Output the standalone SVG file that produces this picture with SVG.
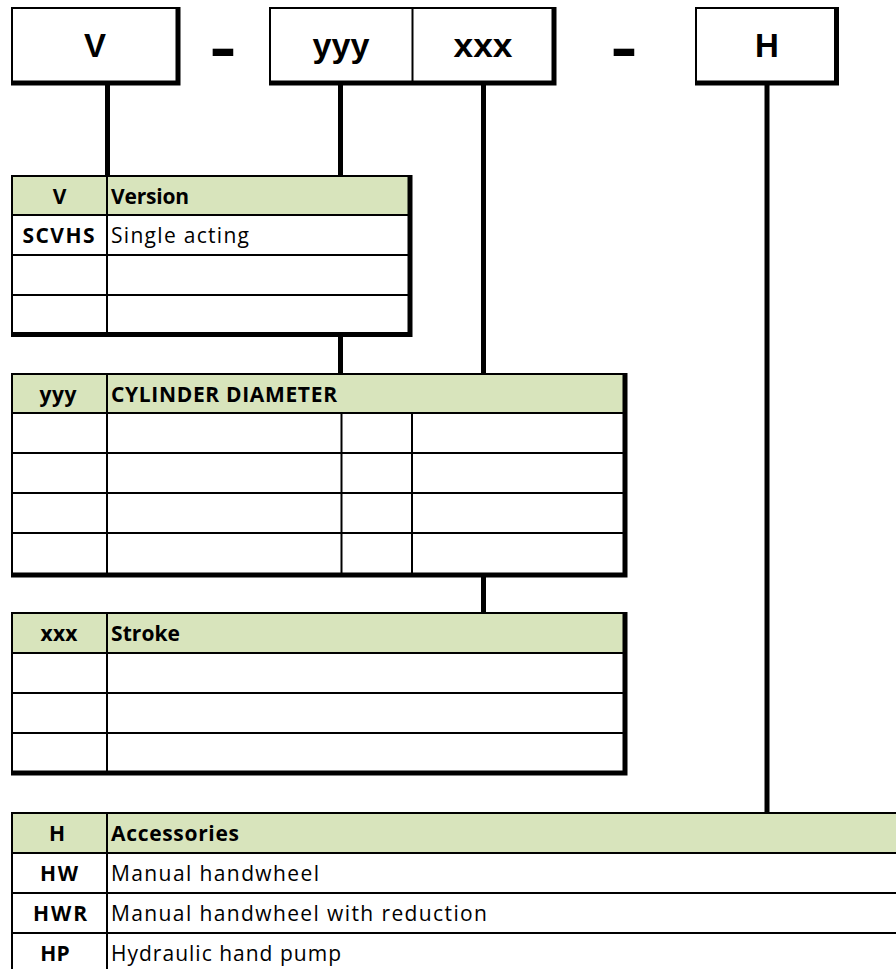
<svg xmlns="http://www.w3.org/2000/svg" width="896" height="969" viewBox="0 0 896 969">
<style>
.thin{stroke:#000;stroke-width:2;fill:none}
.thick{stroke:#000;stroke-width:5;fill:none;stroke-linejoin:miter}
.hdr{fill:#D8E4BC}
.wbg{fill:#fff}
.big{font-family:"Liberation Sans",Arial,sans-serif;font-weight:bold;font-size:33px;text-anchor:middle;fill:#000}
.dash{font-family:"Liberation Sans",Arial,sans-serif;font-weight:bold;font-size:62px;text-anchor:middle;fill:#000}
.b{font-family:"Open Sans","Liberation Sans",sans-serif;font-weight:bold;font-size:21px;fill:#000}
.r{font-family:"Open Sans","Liberation Sans",sans-serif;font-size:21px;fill:#000}
.c{text-anchor:middle}
.conn{stroke:#000;stroke-width:5;fill:none}
</style>
<rect width="896" height="969" fill="#fff"/>
<g id="connectors">
<line class="conn" x1="107.5" y1="83" x2="107.5" y2="176"/>
<line class="conn" x1="340.5" y1="83" x2="340.5" y2="374"/>
<line class="conn" x1="483.5" y1="83" x2="483.5" y2="613"/>
<line class="conn" x1="767" y1="83" x2="767" y2="813"/>
</g>
<g id="box-V">
<rect class="wbg" x="12" y="8" width="166" height="75"/>
<rect class="thin" x="12" y="8" width="166" height="75"/>
<path class="thick" d="M178,7 V83 H11"/>
<text class="big" x="95" y="57">V</text>
</g>
<text id="dash1" class="dash" x="223" y="68" textLength="27" lengthAdjust="spacingAndGlyphs">-</text>
<g id="box-yyy-xxx">
<rect class="wbg" x="270" y="8" width="284" height="75"/>
<rect class="thin" x="270" y="8" width="284" height="75"/>
<line class="thin" x1="412.5" y1="8" x2="412.5" y2="83"/>
<path class="thick" d="M554,7 V83 H269"/>
<text class="big" x="341" y="57" textLength="57" lengthAdjust="spacingAndGlyphs">yyy</text>
<text class="big" x="483" y="57" textLength="59" lengthAdjust="spacingAndGlyphs">xxx</text>
</g>
<text id="dash2" class="dash" x="624" y="68" textLength="27" lengthAdjust="spacingAndGlyphs">-</text>
<g id="box-H">
<rect class="wbg" x="696" y="8" width="140.5" height="75"/>
<rect class="thin" x="696" y="8" width="140.5" height="75"/>
<path class="thick" d="M836.5,7 V83 H695"/>
<text class="big" x="767" y="57">H</text>
</g>
<g id="table-V">
<rect class="wbg" x="12" y="176" width="398" height="158.5"/>
<rect class="hdr" x="12" y="176" width="398" height="39"/>
<rect class="thin" x="12" y="176" width="398" height="158.5"/>
<line class="thin" x1="12" y1="215" x2="410" y2="215"/>
<line class="thin" x1="12" y1="255" x2="410" y2="255"/>
<line class="thin" x1="12" y1="295" x2="410" y2="295"/>
<line class="thin" x1="107" y1="176" x2="107" y2="334.5"/>
<path class="thick" d="M410,175 V334.5 H11"/>
<text class="b c" x="59.5" y="203.5">V</text>
<text class="b" x="111" y="203.5" textLength="78">Version</text>
<text class="b c" x="58.5" y="242.5" textLength="72">SCVHS</text>
<text class="r" x="111" y="242.5" textLength="138">Single acting</text>
</g>
<g id="table-yyy">
<rect class="wbg" x="12" y="374" width="613" height="201"/>
<rect class="hdr" x="12" y="374" width="613" height="39"/>
<rect class="thin" x="12" y="374" width="613" height="201"/>
<line class="thin" x1="12" y1="413" x2="625" y2="413"/>
<line class="thin" x1="12" y1="453" x2="625" y2="453"/>
<line class="thin" x1="12" y1="493" x2="625" y2="493"/>
<line class="thin" x1="12" y1="533" x2="625" y2="533"/>
<line class="thin" x1="107" y1="374" x2="107" y2="575"/>
<line class="thin" x1="341.5" y1="413" x2="341.5" y2="575"/>
<line class="thin" x1="412" y1="413" x2="412" y2="575"/>
<path class="thick" d="M625,373 V575 H11"/>
<text class="b c" x="58" y="401.5" textLength="37">yyy</text>
<text class="b" x="111" y="401.5" textLength="226">CYLINDER DIAMETER</text>
</g>
<g id="table-xxx">
<rect class="wbg" x="12" y="613" width="613" height="160"/>
<rect class="hdr" x="12" y="613" width="613" height="40"/>
<rect class="thin" x="12" y="613" width="613" height="160"/>
<line class="thin" x1="12" y1="653" x2="625" y2="653"/>
<line class="thin" x1="12" y1="693" x2="625" y2="693"/>
<line class="thin" x1="12" y1="733" x2="625" y2="733"/>
<line class="thin" x1="107" y1="613" x2="107" y2="773"/>
<path class="thick" d="M625,612 V773 H11"/>
<text class="b c" x="59" y="640.5" textLength="37">xxx</text>
<text class="b" x="111" y="640.5" textLength="69">Stroke</text>
</g>
<g id="table-H">
<rect class="wbg" x="12" y="813" width="900" height="170"/>
<rect class="hdr" x="12" y="813" width="900" height="40"/>
<rect class="thin" x="12" y="813" width="900" height="170"/>
<line class="thin" x1="12" y1="853" x2="900" y2="853"/>
<line class="thin" x1="12" y1="893" x2="900" y2="893"/>
<line class="thin" x1="12" y1="933" x2="900" y2="933"/>
<line class="thin" x1="107" y1="813" x2="107" y2="969"/>
<text class="b c" x="57" y="840.5">H</text>
<text class="b" x="111" y="840.5" textLength="128">Accessories</text>
<text class="b c" x="59" y="880.5" textLength="38">HW</text>
<text class="r" x="111" y="880.5" textLength="208">Manual handwheel</text>
<text class="b c" x="60" y="920.5" textLength="54">HWR</text>
<text class="r" x="111" y="920.5" textLength="376">Manual handwheel with reduction</text>
<text class="b c" x="55" y="960.5">HP</text>
<text class="r" x="111" y="960.5" textLength="230">Hydraulic hand pump</text>
</g>
</svg>
